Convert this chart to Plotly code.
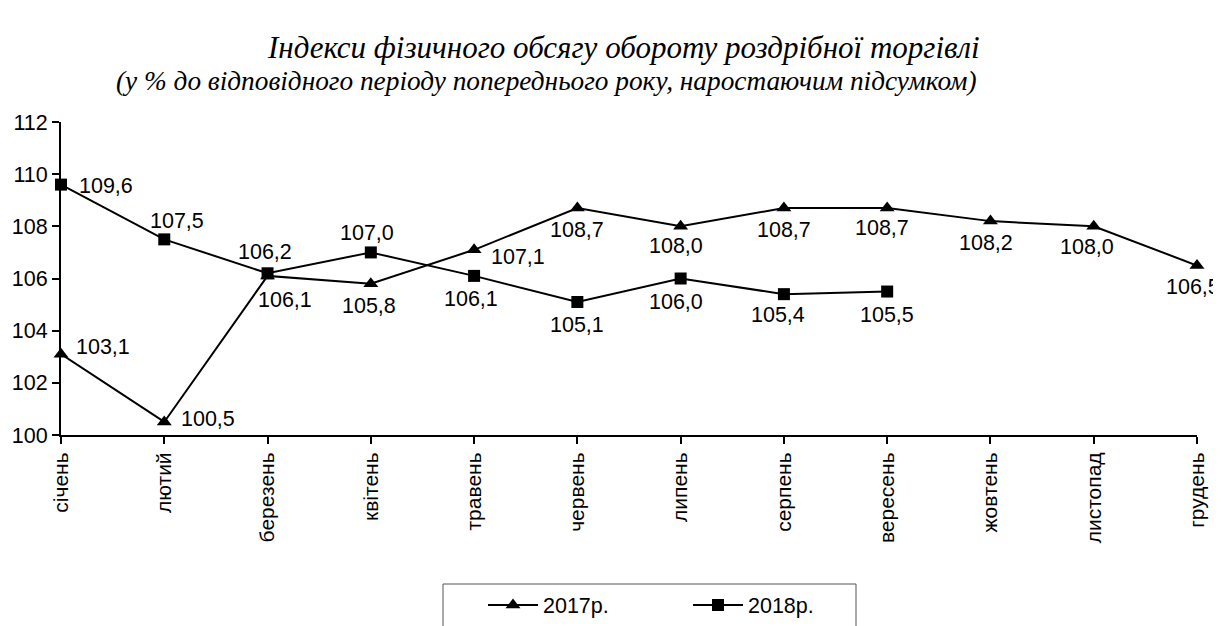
import plotly.graph_objects as go

months = ["січень", "лютий", "березень", "квітень", "травень", "червень",
          "липень", "серпень", "вересень", "жовтень", "листопад", "грудень"]
values_2017 = [103.1, 100.5, 106.1, 105.8, 107.1, 108.7, 108.0, 108.7, 108.7, 108.2, 108.0, 106.5]
values_2018 = [109.6, 107.5, 106.2, 107.0, 106.1, 105.1, 106.0, 105.4, 105.5]
y_ticks = [100, 102, 104, 106, 108, 110, 112]

# label offsets in screen pixels (dx, dy; dy positive = downward)
off_2017 = [(42, -7), (44, -3), (17, 24), (-2, 22), (44, 7), (0, 22),
            (-5, 20), (0, 22), (-5, 20), (-4, 22), (-7, 21), (-4, 22)]
off_2018 = [(45, 1), (13, -18), (-3, -21), (-4, -19), (-3, 23), (0, 23),
            (-5, 23), (-6, 21), (0, 23)]

def fmt(v):
    return f"{v:.1f}".replace(".", ",")

FONT = "Liberation Sans"
SERIF = "Liberation Serif"
FS = 21.5

# page body has an 8px margin: work in screen coords and subtract it
PAGE = 8
W, H = 1221 - PAGE, 626 - PAGE
L, R, T, B = 61 - PAGE, 1221 - 1197, 122 - PAGE, 626 - 435
pw = W - L - R
ph = H - T - B

def px_x(p):
    return (p - PAGE - L) / pw

def px_y(p):
    return (H - B - (p - PAGE)) / ph

fig = go.Figure()
fig.add_trace(go.Scatter(
    x=months, y=values_2017, name="2017р.", mode="lines+markers",
    line=dict(color="black", width=2),
    marker=dict(symbol="triangle-up", size=13, color="black"), cliponaxis=False))
fig.add_trace(go.Scatter(
    x=months[:len(values_2018)], y=values_2018, name="2018р.", mode="lines+markers",
    line=dict(color="black", width=2),
    marker=dict(symbol="square", size=12, color="black"), cliponaxis=False))

annotations = []
for vals, offs in ((values_2017, off_2017), (values_2018, off_2018)):
    for m, v, (dx, dy) in zip(months, vals, offs):
        annotations.append(dict(
            x=m, y=v, xref="x", yref="y", text=fmt(v), showarrow=False,
            xanchor="center", yanchor="middle", xshift=dx, yshift=-dy,
            font=dict(family=FONT, size=FS, color="black")))

annotations += [
    dict(text="<i>Індекси фізичного обсягу обороту роздрібної торгівлі</i>",
         xref="paper", yref="paper", x=px_x(623), y=px_y(47), xanchor="center",
         yanchor="middle", showarrow=False,
         font=dict(family=SERIF, size=31, color="black")),
    dict(text="<i>(у % до відповідного періоду попереднього року, наростаючим підсумком)</i>",
         xref="paper", yref="paper", x=px_x(546), y=px_y(81), xanchor="center",
         yanchor="middle", showarrow=False,
         font=dict(family=SERIF, size=27.3, color="black")),
]

fig.update_layout(
    width=W, height=H,
    margin=dict(l=L, r=R, t=T, b=B, autoexpand=False),
    paper_bgcolor="white", plot_bgcolor="white",
    font=dict(family=FONT, size=FS, color="black"),
    showlegend=True,
    legend=dict(orientation="h", x=px_x(483), xanchor="left", y=px_y(605), yanchor="middle",
                borderwidth=0, entrywidth=140, itemwidth=50, bgcolor="rgba(0,0,0,0)",
                font=dict(family=FONT, size=FS, color="black")),
    xaxis=dict(range=[0, 11], showline=True, linecolor="black", linewidth=2,
               ticks="outside", tickcolor="black", ticklen=7, tickwidth=2,
               tickangle=-90, showgrid=False, zeroline=False, automargin=False,
               tickfont=dict(family=FONT, size=21, color="black")),
    yaxis=dict(range=[100, 112], tickvals=y_ticks, showline=True, linecolor="black",
               linewidth=2, ticks="outside", tickcolor="black", ticklen=7, tickwidth=2,
               showgrid=False, zeroline=False, automargin=False,
               tickfont=dict(family=FONT, size=FS, color="black")),
    annotations=annotations,
    shapes=[dict(type="rect", xref="paper", yref="paper",
                 x0=px_x(443), x1=px_x(856), y0=px_y(584), y1=px_y(660),
                 line=dict(color="#555", width=1), fillcolor="rgba(0,0,0,0)")],
)
fig.write_html("out.html")
